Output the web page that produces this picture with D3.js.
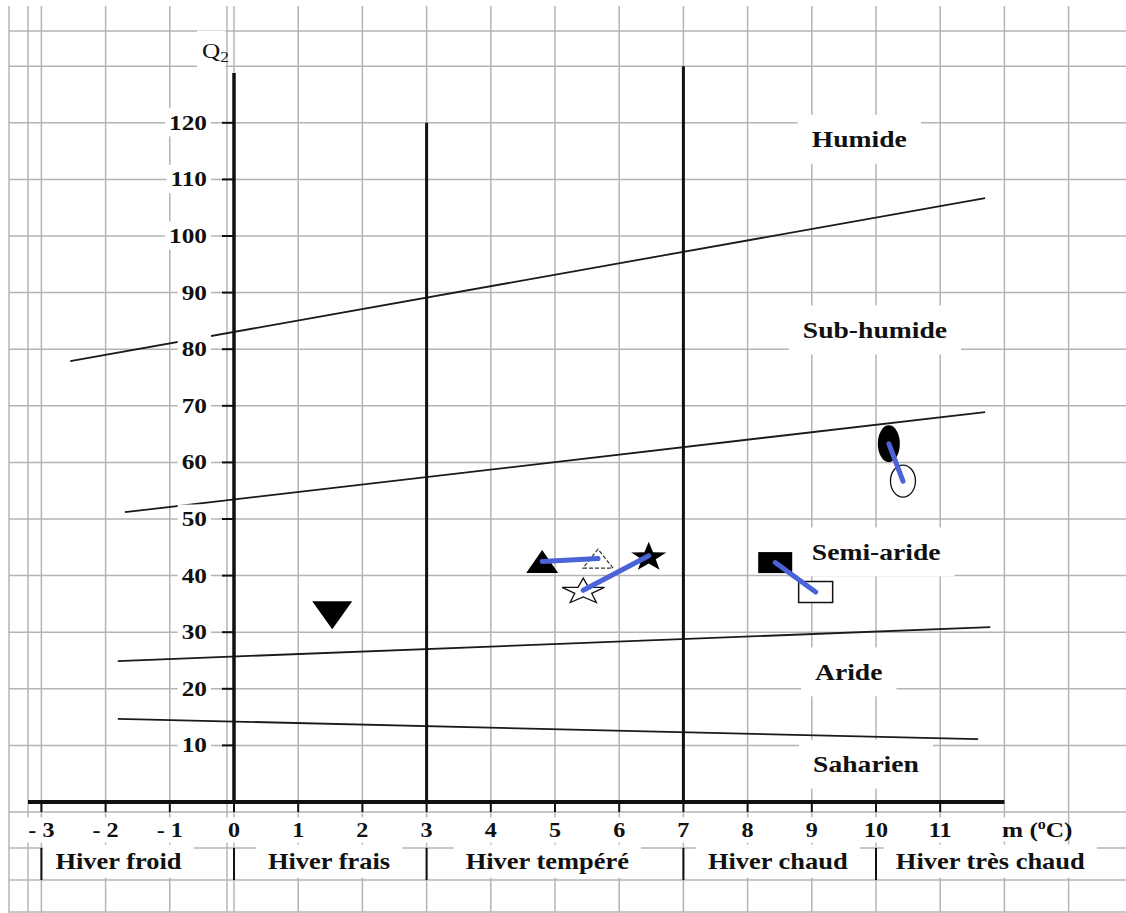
<!DOCTYPE html>
<html>
<head>
<meta charset="utf-8">
<script src="https://cdn.jsdelivr.net/npm/d3@7"></script>
<style>
html, body { margin: 0; padding: 0; background: #fff; }
svg { display: block; }
text { font-family: "Liberation Serif", "Times New Roman", serif; fill: #111; }
</style>
</head>
<body>
<div id="chart"></div>
<script>
var tempTicks = [-3, -2, -1, 0, 1, 2, 3, 4, 5, 6, 7, 8, 9, 10, 11];
var tempTickLabels = ["- 3", "- 2", "- 1", "0", "1", "2", "3", "4", "5", "6", "7", "8", "9", "10", "11"];
var q2Ticks = [10, 20, 30, 40, 50, 60, 70, 80, 90, 100, 110, 120];

var winterNames = ["Hiver froid", "Hiver frais", "Hiver tempéré", "Hiver chaud", "Hiver très chaud"];
var winterLimits = [-3, 0, 3, 7, 10];
var winterLabelM = [-1.8, 1.48, 4.88, 8.47, 11.78];

var zoneNames = ["Humide", "Sub-humide", "Semi-aride", "Aride", "Saharien"];
var zoneLabelM = [9.0, 8.86, 9.0, 9.05, 9.02];
var zoneLabelQ = [115.7, 82.0, 42.8, 21.6, 5.3];

// boundaries between bioclimatic stages: [m start, Q2 start, m end, Q2 end]
var zoneLimitLines = [
  [-2.55, 77.9, 11.7, 106.7],
  [-1.70, 51.2, 11.7, 68.9],
  [-1.81, 24.9, 11.78, 30.9],
  [-1.81, 14.7, 11.59, 11.1]
];

// thick vertical separators (m, top Q2)
var winterSeparators = [[3, 120], [7, 130]];

// stations
var stationShape = ["triangleDown", "triangle", "triangleOpen", "star", "starOpen", "square", "squareOpen", "ellipse", "ellipseOpen"];
var stationM = [1.53, 4.80, 5.67, 6.46, 5.44, 8.43, 9.06, 10.20, 10.42];
var stationQ = [33.0, 42.5, 43.0, 43.5, 37.4, 42.3, 37.1, 63.3, 56.7];
// displacement of a station between the two periods (from index -> to index)
var shifts = [[1, 2], [3, 4], [5, 6], [7, 8]];

// ---- layout ----
var width = 1126, height = 913;
var sx = 1.15; // picture is stretched horizontally

var x = d3.scaleLinear().domain([0, 11]).range([234, 940.2]);
var y = d3.scaleLinear().domain([0, 120]).range([802, 122.8]);

var svg = d3.select("#chart").append("svg")
  .attr("width", width)
  .attr("height", height);

svg.append("rect").attr("width", width).attr("height", height).attr("fill", "#fff");

// ---- background grid (squared paper / table) ----
var grid = svg.append("g").attr("stroke", "#b4b4b4").attr("stroke-width", 1.5);
var gridCols = d3.range(-3, 14).map(x).concat([9, 28, 227]);
var gridRows = d3.range(10, 140, 10).map(y).concat([31, 812, 848, 880, 912]);

grid.selectAll(".gv").data(gridCols).enter().append("line")
  .attr("x1", function(d){ return d; }).attr("x2", function(d){ return d; })
  .attr("y1", 6).attr("y2", 913);
grid.selectAll(".gh").data(gridRows).enter().append("line")
  .attr("x1", 9).attr("x2", width)
  .attr("y1", function(d){ return d; }).attr("y2", function(d){ return d; });

// ---- stage limits ----
svg.append("g").selectAll("line").data(zoneLimitLines).enter().append("line")
  .attr("x1", function(d){ return x(d[0]); })
  .attr("y1", function(d){ return y(d[1]); })
  .attr("x2", function(d){ return x(d[2]); })
  .attr("y2", function(d){ return y(d[3]); })
  .attr("stroke", "#1a1a1a")
  .attr("stroke-width", 1.8);

// ---- axes ----
var axes = svg.append("g").attr("stroke", "#111");
axes.append("line").attr("x1", x(0)).attr("x2", x(0)).attr("y1", y(128.8)).attr("y2", y(0)).attr("stroke-width", 3.5);
axes.append("line").attr("x1", 28).attr("x2", x(12)).attr("y1", y(0)).attr("y2", y(0)).attr("stroke-width", 4);
axes.selectAll(".sep").data(winterSeparators).enter().append("line")
  .attr("x1", function(d){ return x(d[0]); }).attr("x2", function(d){ return x(d[0]); })
  .attr("y1", function(d){ return y(d[1]); }).attr("y2", y(0))
  .attr("stroke-width", 3);

axes.selectAll(".ty").data(q2Ticks).enter().append("line")
  .attr("x1", x(0) - 12).attr("x2", x(0))
  .attr("y1", function(d){ return y(d); }).attr("y2", function(d){ return y(d); })
  .attr("stroke-width", 2);
axes.selectAll(".tx").data(tempTicks).enter().append("line")
  .attr("x1", function(d){ return x(d); }).attr("x2", function(d){ return x(d); })
  .attr("y1", y(0)).attr("y2", y(0) + 10)
  .attr("stroke-width", 2);

// short separators of the winter classes
axes.selectAll(".wsep").data(winterLimits).enter().append("line")
  .attr("x1", function(d){ return x(d); }).attr("x2", function(d){ return x(d); })
  .attr("y1", 848).attr("y2", 880)
  .attr("stroke-width", 2);

// ---- text helper: stretched serif text on a white box ----
function label(parent, txt, px, py, opt) {
  var g = parent.append("g")
    .attr("transform", "translate(" + px + "," + py + ") scale(" + sx + ",1)");
  var t = g.append("text")
    .attr("text-anchor", opt.anchor || "start")
    .style("font-size", opt.size + "px")
    .style("font-weight", opt.weight || "bold")
    .text(txt);
  if (opt.padX !== undefined) {
    var b = t.node().getBBox();
    g.insert("rect", "text")
      .attr("x", b.x - opt.padX / sx)
      .attr("y", b.y - opt.padY)
      .attr("width", b.width + 2 * opt.padX / sx)
      .attr("height", b.height + 2 * opt.padY)
      .attr("fill", "#fff");
  }
  return t;
}

var labels = svg.append("g");

q2Ticks.forEach(function(d){
  label(labels, String(d), 207, y(d) + 7, {size: 22, anchor: "end", padX: 4, padY: 2});
});

tempTicks.forEach(function(d, i){
  label(labels, tempTickLabels[i], x(d), 837, {size: 21, anchor: "middle", padX: 8, padY: 1});
});

var unit = label(labels, "m (", 1002, 837, {size: 22, padX: 0, padY: 0});
unit.append("tspan").attr("dy", -8).style("font-size", "14px").text("o");
unit.append("tspan").attr("dy", 8).text("C)");

winterNames.forEach(function(d, i){
  label(labels, d, x(winterLabelM[i]), 869, {size: 23, anchor: "middle", padX: 12, padY: 4});
});

zoneNames.forEach(function(d, i){
  label(labels, d, x(zoneLabelM[i]), y(zoneLabelQ[i]), {size: 24, padX: 14, padY: 11});
});

var q2 = label(labels, "Q", 202, 58, {size: 22, weight: "normal", padX: 5, padY: 8});
q2.append("tspan").attr("dy", 4).style("font-size", "15px").text("2");

// ---- stations ----
function starPath(R, kx, ky) {
  var pts = d3.range(10).map(function(k){
    var a = -Math.PI / 2 + k * Math.PI / 5;
    var r = k % 2 ? R * 0.4 : R;
    return [Math.cos(a) * r * kx, Math.sin(a) * r * ky];
  });
  return "M" + pts.join("L") + "Z";
}
function triPath(w, h, down) {
  var s = down ? -1 : 1;
  return "M" + (-w / 2) + "," + (s * h / 2) + "L" + (w / 2) + "," + (s * h / 2) + "L0," + (-s * h / 2) + "Z";
}

var marks = svg.append("g");
stationShape.forEach(function(shape, i){
  var g = marks.append("g").attr("transform", "translate(" + x(stationM[i]) + "," + y(stationQ[i]) + ")");
  if (shape === "triangleDown") {
    g.append("path").attr("d", triPath(40, 28, true)).attr("fill", "#000");
  } else if (shape === "triangle") {
    g.append("path").attr("d", triPath(32, 23, false)).attr("fill", "#000");
  } else if (shape === "triangleOpen") {
    g.append("path").attr("d", triPath(30, 19, false)).attr("fill", "#fff")
      .attr("stroke", "#333").attr("stroke-width", 1.2).attr("stroke-dasharray", "4,2");
  } else if (shape === "star") {
    g.append("path").attr("d", starPath(15.5, 1.19, 1)).attr("fill", "#000").attr("transform", "translate(0,1.5)");
  } else if (shape === "starOpen") {
    g.append("path").attr("d", starPath(13.5, 1.65, 1)).attr("fill", "#fff")
      .attr("stroke", "#111").attr("stroke-width", 1.3).attr("transform", "translate(0,1.3)");
  } else if (shape === "square") {
    g.append("rect").attr("x", -17).attr("y", -10.5).attr("width", 34).attr("height", 21).attr("fill", "#000");
  } else if (shape === "squareOpen") {
    g.append("rect").attr("x", -17).attr("y", -10.5).attr("width", 34).attr("height", 21)
      .attr("fill", "#fff").attr("stroke", "#111").attr("stroke-width", 1.5);
  } else if (shape === "ellipse") {
    g.append("ellipse").attr("rx", 11).attr("ry", 18.5).attr("fill", "#000");
  } else if (shape === "ellipseOpen") {
    g.append("ellipse").attr("rx", 12.5).attr("ry", 16).attr("fill", "#fff")
      .attr("stroke", "#111").attr("stroke-width", 1.3);
  }
});

// blue arrows of displacement
marks.selectAll(".shift").data(shifts).enter().append("line")
  .attr("x1", function(d){ return x(stationM[d[0]]); })
  .attr("y1", function(d){ return y(stationQ[d[0]]); })
  .attr("x2", function(d){ return x(stationM[d[1]]); })
  .attr("y2", function(d){ return y(stationQ[d[1]]); })
  .attr("stroke", "#4a63d8")
  .attr("stroke-width", 5)
  .attr("stroke-linecap", "round");
</script>
</body>
</html>
